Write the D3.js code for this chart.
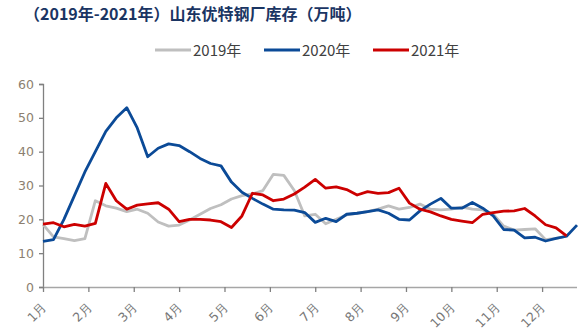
<!DOCTYPE html>
<html><head><meta charset="utf-8">
<script src="https://cdn.jsdelivr.net/npm/d3@7"></script>
<style>
body{margin:0;background:#fff;}
svg{display:block;}
</style></head>
<body>
<svg id="c" width="582" height="336"></svg>
<script>
const title = "（2019年-2021年）山东优特钢厂库存（万吨）";
const seriesNames = ["2019年", "2020年", "2021年"];
const monthLabels = ["1月","2月","3月","4月","5月","6月","7月","8月","9月","10月","11月","12月"];
const yTicks = [0,10,20,30,40,50,60];

const s2019 = [18.5,14.8,14.3,13.7,14.3,25.5,24,23.3,22.3,23,21.8,19.2,18,18.3,19.8,21.5,23.2,24.3,26,27,27.5,28.5,33.3,33,28.5,21,21.5,18.7,20,21.3,21.8,22.3,23,24,23,23.5,24.5,23,22.8,23,23.6,23,22.8,21.5,18,16.8,17,17.2,14,14.4,15];
const s2020 = [13.5,14,20,27,34,40,46,50,53,47,38.5,41,42.3,41.8,40,38,36.5,35.8,31,28,26.2,24.5,23,22.8,22.7,22,19.1,20.3,19.3,21.5,21.8,22.3,22.8,21.8,20,19.8,22.5,24.5,26.2,23.3,23.3,25,23.3,21,17,16.8,14.5,14.7,13.6,14.4,15,18.3];
const s2021 = [18.6,19,17.8,18.5,18,18.8,30.6,25.5,23,24.2,24.6,24.9,23,19.3,20,20,19.8,19.3,17.6,21,27.7,27.2,25.5,26,27.5,29.5,31.8,29.2,29.6,28.8,27.2,28.2,27.7,27.9,29.2,24.8,23,22.2,21,20,19.5,19,21.5,22,22.4,22.5,23.2,21,18.4,17.5,15.1];
const colors = ["#BFBFBF", "#0B4A97", "#CC0000"];

const svg = d3.select("#c");
const x = d3.scaleLinear().domain([0, 51]).range([43, 577]);
const y = d3.scaleLinear().domain([0, 60]).range([287, 84]);

// title
svg.append("text").attr("x", 24).attr("y", 20)
  .attr("font-family", "'Noto Sans CJK SC', sans-serif")
  .attr("font-weight", "bold").attr("font-size", 16)
  .attr("fill", "#1A3563").text(title);

// legend
const legX = [155, 264, 373];
seriesNames.forEach((n, i) => {
  const g = svg.append("g");
  g.append("line").attr("x1", legX[i]).attr("x2", legX[i] + 36)
    .attr("y1", 50).attr("y2", 50).attr("stroke", colors[i]).attr("stroke-width", 3);
  g.append("text").attr("x", legX[i] + 38).attr("y", 55.5)
    .attr("font-family", "'Noto Sans CJK SC', sans-serif").attr("font-size", 15)
    .attr("fill", "#404040").text(n);
});

// y axis
const yAxis = d3.axisLeft(y).tickValues(yTicks).tickSize(4).tickPadding(5);
const ya = svg.append("g").attr("transform", "translate(43,0)").call(yAxis);
ya.select(".domain").attr("stroke", "#808080").attr("stroke-width", 1.3);
ya.selectAll(".tick line").attr("stroke", "#808080").attr("stroke-width", 1.3);
ya.selectAll(".tick text").attr("font-family", "'DejaVu Sans', sans-serif").attr("font-size", 12.5).attr("fill", "#8C7F70");

// x axis
const monthPos = monthLabels.map((m, i) => i * 52 / 12);
const xAxis = d3.axisBottom(x).tickValues(monthPos).tickFormat((d, i) => monthLabels[i]).tickSize(5).tickSizeOuter(0);
const xa = svg.append("g").attr("transform", "translate(0,287)").call(xAxis);
xa.select(".domain").attr("stroke", "#A6A6A6").attr("stroke-width", 1.3).attr("d", "M43,0.5H577");
xa.selectAll(".tick line").attr("stroke", "#808080").attr("stroke-width", 1.3);
xa.selectAll(".tick text")
  .attr("font-family", "'DejaVu Sans', sans-serif").attr("font-size", 12.5).attr("fill", "#777")
  .attr("text-anchor", "end").attr("dy", null).attr("y", 0)
  .attr("transform", "translate(4,21) rotate(-45)");

// lines
const line = d3.line().x((d, i) => x(i)).y(d => y(d));
[s2019, s2020, s2021].forEach((s, i) => {
  svg.append("path").datum(s).attr("d", line).attr("fill", "none")
    .attr("stroke", colors[i]).attr("stroke-width", 2.8).attr("stroke-linejoin", "round");
});
</script>
</body></html>
